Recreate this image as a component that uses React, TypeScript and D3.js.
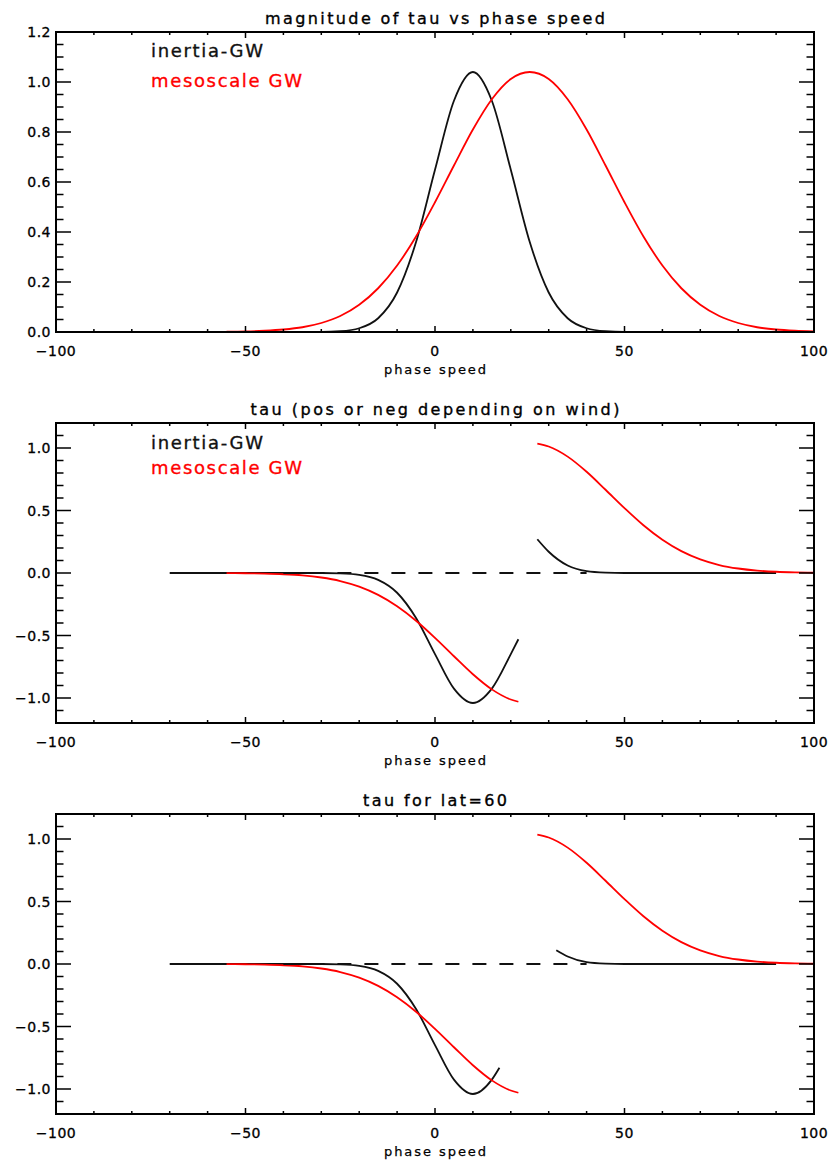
import React from 'react';
import * as d3 from 'd3';

// phase speed grid (m/s) used for the magnitude curves
const speedGrid = [-70, -65, -60, -55, -50, -45, -40, -35, -30, -25, -20, -15, -10, -5, 0, 5, 10, 15, 20, 25, 30, 35, 40, 45, 50, 55, 60, 65, 70, 75, 80, 85, 90, 95, 100];

// panel 1: |tau| vs phase speed
const inertiaMag = [0, 0, 0, 0, 0, 0, 0, 0, 0, 0.003, 0.015, 0.055, 0.158, 0.36, 0.649, 0.925, 1.04, 0.925, 0.649, 0.36, 0.158, 0.055, 0.015, 0.003, 0, 0, 0, 0, 0, 0, 0, 0, 0, null, null];
const mesoMag = [null, null, null, 0.001, 0.002, 0.005, 0.01, 0.019, 0.036, 0.064, 0.109, 0.175, 0.266, 0.382, 0.519, 0.666, 0.81, 0.931, 1.012, 1.04, 1.012, 0.931, 0.81, 0.666, 0.519, 0.382, 0.266, 0.175, 0.109, 0.064, 0.036, 0.019, 0.01, 0.005, 0.002];

// panel 2: signed tau, gap where phase speed crosses the wind
const inertiaNegSpeed = [-70, -65, -60, -55, -50, -45, -40, -35, -30, -25, -20, -15, -10, -5, 0, 5, 10, 15, 20, 22];
const inertiaNegTau = [0, 0, 0, 0, 0, 0, 0, 0, 0, -0.003, -0.015, -0.055, -0.158, -0.36, -0.649, -0.925, -1.04, -0.925, -0.649, -0.53];
const inertiaPosSpeed = [27, 30, 35, 40, 45, 50, 55, 60, 65, 70, 75, 80, 85, 90];
const inertiaPosTau = [0.27, 0.17, 0.06, 0.015, 0.003, 0, 0, 0, 0, 0, 0, 0, 0, 0];
const mesoNegSpeed = [-55, -50, -45, -40, -35, -30, -25, -20, -15, -10, -5, 0, 5, 10, 15, 20, 22];
const mesoNegTau = [-0.001, -0.002, -0.005, -0.01, -0.019, -0.036, -0.064, -0.109, -0.175, -0.266, -0.382, -0.519, -0.666, -0.81, -0.931, -1.012, -1.03];
const mesoPosSpeed = [27, 30, 35, 40, 45, 50, 55, 60, 65, 70, 75, 80, 85, 90, 95, 100];
const mesoPosTau = [1.035, 1.012, 0.931, 0.81, 0.666, 0.519, 0.382, 0.266, 0.175, 0.109, 0.064, 0.036, 0.019, 0.01, 0.005, 0.002];

// panel 3: lat=60, the inertia-GW gap is wider
const inertia60NegSpeed = [-70, -65, -60, -55, -50, -45, -40, -35, -30, -25, -20, -15, -10, -5, 0, 5, 10, 15, 17];
const inertia60NegTau = [0, 0, 0, 0, 0, 0, 0, 0, 0, -0.003, -0.015, -0.055, -0.158, -0.36, -0.649, -0.925, -1.04, -0.925, -0.83];
const inertia60PosSpeed = [32, 35, 40, 45, 50, 55, 60, 65, 70, 75, 80, 85, 90];
const inertia60PosTau = [0.11, 0.06, 0.015, 0.003, 0, 0, 0, 0, 0, 0, 0, 0, 0];

// dashed zero reference
const zeroRefSpeed = [-40, 40];
const zeroRefTau = [0, 0];

const xTickValues = [-100, -50, 0, 50, 100];
const xTickLabels = ['\u2212100', '\u221250', '0', '50', '100'];
const yTickValues1 = [0, 0.2, 0.4, 0.6, 0.8, 1.0, 1.2];
const yTickLabels1 = ['0.0', '0.2', '0.4', '0.6', '0.8', '1.0', '1.2'];
const yTickValues2 = [-1.0, -0.5, 0, 0.5, 1.0];
const yTickLabels2 = ['\u22121.0', '\u22120.5', '0.0', '0.5', '1.0'];

const titles = ['magnitude of tau vs phase speed', 'tau (pos or neg depending on wind)', 'tau for lat=60'];
const legendNames = ['inertia-GW', 'mesoscale GW'];

const FONT = '"DejaVu Sans", sans-serif';
const BLACK = '#111';
const RED = '#ff0000';

const plotLeft = 56;
const plotRight = 814;
const plotH = 300;

const zip = (a: number[], b: (number | null)[]) => a.map((c, i) => [c, b[i]] as [number, number | null]);

type Series = { pts: [number, number | null][]; color: string; dash?: string };

function Panel({ top, title, titleLen, yDomain, yTicks, yLabels, yMinorCount, series, legend }: any) {
  const x = d3.scaleLinear().domain([-100, 100]).range([plotLeft, plotRight]);
  const y = d3.scaleLinear().domain(yDomain).range([top + plotH, top]);
  const bottom = top + plotH;

  const line = d3.line<[number, number | null]>()
    .defined(d => d[1] != null)
    .x(d => x(d[0]))
    .y(d => y(d[1] as number))
    .curve(d3.curveMonotoneX);

  const xMinor = x.ticks(20);
  const yMinor = y.ticks(yMinorCount);

  return (
    <g>
      <text x={(plotLeft + plotRight) / 2} y={top - 8} textAnchor="middle" fontFamily={FONT} fontSize={16}
        stroke="#000" strokeWidth={0.35} textLength={titleLen} lengthAdjust="spacing">{title}</text>

      {series.map((s: Series, i: number) => (
        <path key={i} d={line(s.pts) || ''} fill="none" stroke={s.color} strokeWidth={s.dash ? 2.2 : 1.8}
          strokeDasharray={s.dash} />
      ))}

      {/* frame */}
      <rect x={plotLeft} y={top} width={plotRight - plotLeft} height={plotH} fill="none" stroke="#000" strokeWidth={2} />

      {/* x ticks, bottom and top */}
      {xMinor.map(v => {
        const major = xTickValues.includes(v);
        const len = major ? 6 : 3;
        return (
          <g key={'x' + v} stroke="#000" strokeWidth={1.5}>
            <line x1={x(v)} x2={x(v)} y1={bottom} y2={bottom - len} />
            <line x1={x(v)} x2={x(v)} y1={top} y2={top + len} />
          </g>
        );
      })}
      {/* y ticks, left and right */}
      {yMinor.map(v => {
        const major = yTicks.some((t: number) => Math.abs(t - v) < 1e-9);
        const len = major ? 15 : 7.5;
        return (
          <g key={'y' + v} stroke="#000" strokeWidth={1.5}>
            <line x1={plotLeft} x2={plotLeft + len} y1={y(v)} y2={y(v)} />
            <line x1={plotRight} x2={plotRight - len} y1={y(v)} y2={y(v)} />
          </g>
        );
      })}

      {xTickValues.map((v, i) => (
        <text key={'xl' + v} x={x(v)} y={bottom + 24} textAnchor="middle" fontFamily={FONT} fontSize={14}
          stroke="#000" strokeWidth={0.3} letterSpacing={0.5}>{xTickLabels[i]}</text>
      ))}
      {yTicks.map((v: number, i: number) => (
        <text key={'yl' + v} x={plotLeft - 5} y={y(v) + 5} textAnchor="end" fontFamily={FONT} fontSize={14}
          stroke="#000" strokeWidth={0.3} letterSpacing={0.5}>{yLabels[i]}</text>
      ))}

      <text x={(plotLeft + plotRight) / 2} y={bottom + 42} textAnchor="middle" fontFamily={FONT} fontSize={13}
        stroke="#000" strokeWidth={0.25} textLength={102} lengthAdjust="spacing">phase speed</text>

      {legend && legend.map((l: any, i: number) => (
        <text key={'lg' + i} x={151} y={top + l.dy} fontFamily={FONT} fontSize={18} fill={l.color}
          stroke={l.color} strokeWidth={0.35} textLength={l.len} lengthAdjust="spacing">{l.text}</text>
      ))}
    </g>
  );
}

export default function App() {
  const panel1: Series[] = [
    { pts: zip(speedGrid, inertiaMag), color: BLACK },
    { pts: zip(speedGrid, mesoMag), color: RED },
  ];
  const panel2: Series[] = [
    { pts: zip(inertiaNegSpeed, inertiaNegTau), color: BLACK },
    { pts: zip(inertiaPosSpeed, inertiaPosTau), color: BLACK },
    { pts: zip(mesoNegSpeed, mesoNegTau), color: RED },
    { pts: zip(mesoPosSpeed, mesoPosTau), color: RED },
    { pts: zip(zeroRefSpeed, zeroRefTau), color: BLACK, dash: '14,13' },
  ];
  const panel3: Series[] = [
    { pts: zip(inertia60NegSpeed, inertia60NegTau), color: BLACK },
    { pts: zip(inertia60PosSpeed, inertia60PosTau), color: BLACK },
    { pts: zip(mesoNegSpeed, mesoNegTau), color: RED },
    { pts: zip(mesoPosSpeed, mesoPosTau), color: RED },
    { pts: zip(zeroRefSpeed, zeroRefTau), color: BLACK, dash: '14,13' },
  ];

  return (
    <svg width={834} height={1160} style={{ position: 'absolute', left: 0, top: 0, background: '#fff' }}>
      <Panel top={32} title={titles[0]} titleLen={340} yDomain={[0, 1.2]} yTicks={yTickValues1}
        yLabels={yTickLabels1} yMinorCount={24} series={panel1}
        legend={[
          { text: legendNames[0], color: BLACK, dy: 25, len: 112 },
          { text: legendNames[1], color: RED, dy: 55, len: 151 },
        ]} />
      <Panel top={423} title={titles[1]} titleLen={369} yDomain={[-1.2, 1.2]} yTicks={yTickValues2}
        yLabels={yTickLabels2} yMinorCount={24} series={panel2}
        legend={[
          { text: legendNames[0], color: BLACK, dy: 26, len: 112 },
          { text: legendNames[1], color: RED, dy: 51, len: 151 },
        ]} />
      <Panel top={814} title={titles[2]} titleLen={144} yDomain={[-1.2, 1.2]} yTicks={yTickValues2}
        yLabels={yTickLabels2} yMinorCount={24} series={panel3} />
    </svg>
  );
}
